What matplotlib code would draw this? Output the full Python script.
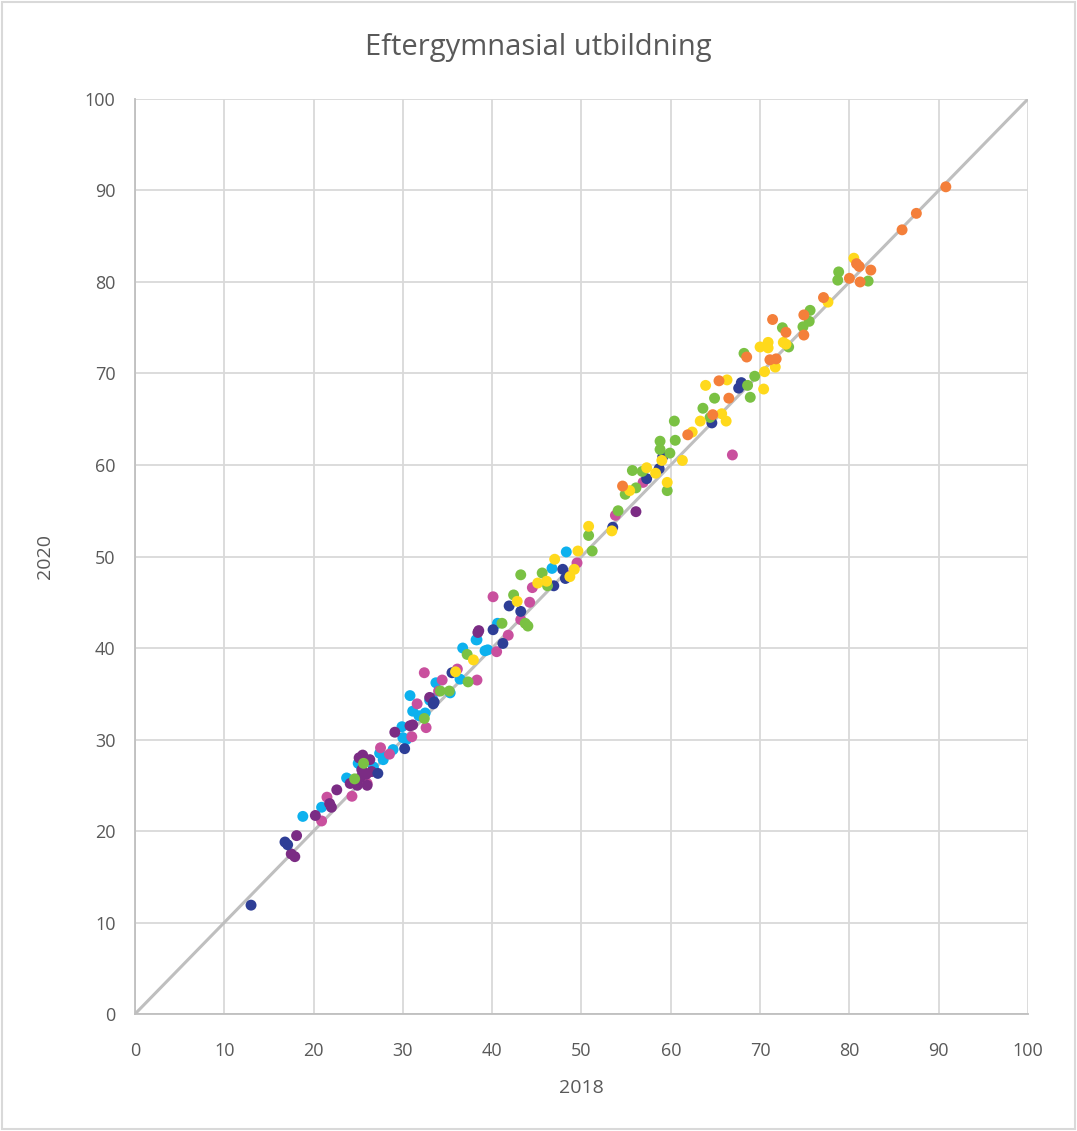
import matplotlib.pyplot as plt
from matplotlib.patches import Rectangle

# 2018 vs 2020 share, one pair of lists per colour group
orange_x = [90.8, 87.5, 85.9, 80.0, 81.1, 82.4, 81.2, 80.8, 77.1, 74.9, 74.9, 71.4, 71.8,
            72.9, 68.5, 71.1, 65.4, 66.5, 64.7, 61.9, 54.6]
orange_y = [90.4, 87.5, 85.7, 80.4, 81.7, 81.3, 80.0, 82.0, 78.3, 76.4, 74.2, 75.9, 71.6,
            74.5, 71.8, 71.5, 69.2, 67.3, 65.5, 63.3, 57.7]

green_x = [78.8, 78.7, 82.1, 75.6, 75.5, 74.8, 72.5, 73.2, 68.2, 69.4, 68.6, 68.9, 64.9,
           63.6, 64.4, 60.4, 60.5, 58.8, 58.8, 59.9, 55.7, 56.8, 56.1, 54.9, 59.6, 54.1,
           50.8, 51.2, 43.2, 45.6, 42.4, 46.2, 41.1, 44.0, 43.7, 37.2, 37.3, 34.2, 35.2,
           32.4, 25.6, 24.6]
green_y = [81.1, 80.2, 80.1, 76.9, 75.7, 75.1, 75.0, 72.9, 72.2, 69.7, 68.7, 67.4, 67.3,
           66.2, 65.2, 64.8, 62.7, 62.6, 61.7, 61.3, 59.4, 59.3, 57.5, 56.8, 57.2, 55.0,
           52.3, 50.6, 48.0, 48.2, 45.8, 46.8, 42.7, 42.4, 42.7, 39.3, 36.3, 35.3, 35.3,
           32.3, 27.4, 25.7]

yellow_x = [80.5, 77.6, 70.0, 70.9, 70.9, 72.6, 72.9, 71.7, 70.5, 70.4, 63.9, 66.3, 65.7,
            66.2, 63.3, 62.4, 61.3, 59.0, 57.3, 58.3, 59.6, 55.4, 50.8, 53.4, 49.6, 47.0,
            49.2, 48.7, 45.1, 46.1, 42.8, 37.9, 35.9]
yellow_y = [82.6, 77.8, 72.9, 73.4, 72.8, 73.4, 73.2, 70.7, 70.2, 68.3, 68.7, 69.3, 65.6,
            64.8, 64.8, 63.6, 60.5, 60.5, 59.7, 59.1, 58.1, 57.2, 53.3, 52.8, 50.6, 49.7,
            48.6, 47.8, 47.1, 47.3, 45.1, 38.7, 37.4]

navy_x = [13.0, 16.8, 17.1, 27.2, 30.2, 33.4, 35.5, 33.5, 41.2, 40.1, 41.9, 43.2, 47.9,
          46.9, 48.2, 53.5, 57.3, 58.7, 59.1, 64.6, 67.9, 67.6]
navy_y = [11.9, 18.8, 18.5, 26.3, 29.0, 33.9, 37.3, 34.1, 40.5, 42.0, 44.6, 44.0, 48.6,
          46.8, 47.6, 53.2, 58.5, 59.6, 60.9, 64.6, 69.0, 68.4]

cyan_x = [18.8, 20.9, 30.8, 31.1, 29.9, 30.0, 30.4, 27.4, 27.8, 28.9, 25.2, 26.7, 23.7,
          33.0, 33.7, 32.5, 25.0, 33.3, 36.4, 35.3, 36.7, 38.3, 39.2, 39.5, 48.3, 46.7,
          40.6, 38.2, 24.0, 31.8]
cyan_y = [21.6, 22.6, 34.8, 33.1, 31.4, 30.2, 30.0, 28.5, 27.8, 28.9, 27.3, 27.0, 25.8,
          34.3, 36.2, 32.9, 27.4, 34.5, 36.6, 35.1, 40.0, 40.9, 39.7, 39.8, 50.5, 48.7,
          42.7, 40.9, 25.6, 32.6]

pink_x = [32.4, 20.9, 21.5, 24.3, 32.6, 31.0, 27.5, 31.6, 26.0, 38.3, 40.5, 41.8, 36.1,
          34.4, 34.0, 40.1, 44.2, 44.5, 49.5, 48.5, 43.2, 53.8, 56.9, 66.9, 28.5, 25.8]
pink_y = [37.3, 21.1, 23.7, 23.8, 31.3, 30.3, 29.1, 33.9, 25.2, 36.5, 39.6, 41.4, 37.7,
          36.5, 35.3, 45.6, 45.0, 46.6, 49.3, 47.9, 43.1, 54.5, 58.1, 61.1, 28.4, 26.2]

purple_x = [18.1, 17.5, 17.9, 20.2, 21.8, 22.0, 22.6, 24.1, 24.9, 25.4, 25.5, 25.1, 25.2,
            26.0, 26.3, 29.1, 30.8, 31.1, 38.4, 38.5, 56.1, 26.5, 25.9, 33.0]
purple_y = [19.5, 17.5, 17.2, 21.7, 23.0, 22.6, 24.5, 25.2, 25.0, 26.7, 28.3, 28.0, 25.8,
            25.0, 27.8, 30.8, 31.5, 31.6, 41.7, 41.9, 54.9, 26.5, 26.2, 34.6]

groups = [
    (cyan_x, cyan_y, '#0DB1EE'),
    (pink_x, pink_y, '#C9509E'),
    (purple_x, purple_y, '#7B2C84'),
    (navy_x, navy_y, '#2E3E96'),
    (green_x, green_y, '#7AC143'),
    (yellow_x, yellow_y, '#FFD91C'),
    (orange_x, orange_y, '#F47F3A'),
]

plt.rcParams['font.family'] = ['Open Sans', 'DejaVu Sans']

fig = plt.figure(figsize=(10.77, 11.31), dpi=100)
ax = fig.add_axes([0.1253, 0.1034, 0.8292, 0.8091])

ax.plot([0, 100], [0, 100], color='#BFBFBF', lw=2.2, zorder=2)
for xs, ys, c in groups:
    ax.scatter(xs, ys, s=62, color=c, edgecolors='none', zorder=3)

ax.set_xlim(0, 100)
ax.set_ylim(0, 100)
ax.set_xticks(range(0, 101, 10))
ax.set_yticks(range(0, 101, 10))
ax.grid(True, color='#D9D9D9', lw=1.3, zorder=0)
ax.set_axisbelow(True)
for s in ['top', 'right']:
    ax.spines[s].set_visible(False)
for s in ['left', 'bottom']:
    ax.spines[s].set_color('#BFBFBF')
    ax.spines[s].set_linewidth(1.3)
ax.tick_params(length=0, labelsize=13, labelcolor='#595959')
ax.tick_params(axis='x', pad=20)
ax.tick_params(axis='y', pad=14)

ax.set_xlabel('2018', fontsize=14, color='#595959', labelpad=14)
ax.set_ylabel('2020', fontsize=14, color='#595959', labelpad=22)
fig.text(0.5, 0.958, 'Eftergymnasial utbildning', ha='center', va='center',
         fontsize=21, color='#595959')

fig.patches.append(Rectangle((0.002, 0.002), 0.996, 0.996, transform=fig.transFigure,
                             fill=False, edgecolor='#D9D9D9', lw=1.5))

fig.savefig('out.png', dpi=100)
